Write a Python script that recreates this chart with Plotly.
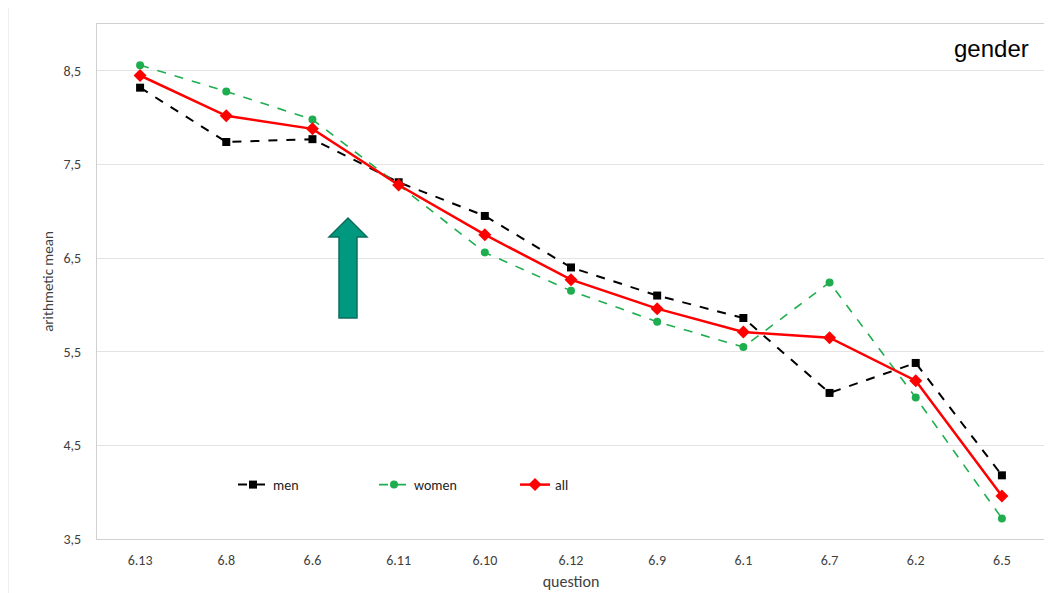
import plotly.graph_objects as go

questions = ["6.13", "6.8", "6.6", "6.11", "6.10", "6.12", "6.9", "6.1", "6.7", "6.2", "6.5"]
men = [8.32, 7.74, 7.77, 7.31, 6.95, 6.40, 6.10, 5.86, 5.06, 5.38, 4.18]
women = [8.56, 8.28, 7.98, 7.28, 6.56, 6.15, 5.82, 5.55, 6.24, 5.01, 3.72]
all_ = [8.45, 8.02, 7.88, 7.28, 6.75, 6.27, 5.96, 5.71, 5.65, 5.19, 3.96]

font_main = "Carlito, Liberation Sans Narrow, Liberation Sans, Arial, sans-serif"

fig = go.Figure()
fig.add_trace(go.Scatter(x=questions, y=men, name="men", mode="lines+markers",
                         line=dict(color="black", width=2, dash="dash"),
                         marker=dict(symbol="square", size=8, color="black")))
fig.add_trace(go.Scatter(x=questions, y=women, name="women", mode="lines+markers",
                         line=dict(color="#1fae4f", width=1.6, dash="dash"),
                         marker=dict(symbol="circle", size=8, color="#1fae4f")))
fig.add_trace(go.Scatter(x=questions, y=all_, name="all", mode="lines+markers",
                         line=dict(color="#ff0000", width=2.5),
                         marker=dict(symbol="diamond", size=10, color="#ff0000")))

OFF = 8  # page body margin
W, H = 1052 - OFF, 593 - OFF
# plot-area edges in screen pixels of the reference
x0p, x1p = 97, 1045
y0p, y1p = 24, 539
def fx(x):
    return (x - x0p) / (x1p - x0p)
def fy(y):
    return (y1p - y) / (y1p - y0p)
arrow_pts = [(339, 318), (339, 237), (329, 237), (348, 218), (367, 237), (357, 237), (357, 318)]
path = "M " + " L ".join(f"{fx(x):.5f},{fy(y):.5f}" for x, y in arrow_pts) + " Z"

fig.update_layout(
    width=W, height=H,
    margin=dict(l=x0p - OFF, r=1052 - x1p, t=y0p - OFF, b=593 - y1p, autoexpand=False),
    paper_bgcolor="white", plot_bgcolor="white",
    separators=",.",
    font=dict(family=font_main, size=14, color="#404040"),
    showlegend=True,
    legend=dict(orientation="h", x=fx(233), y=fy(485),
                xanchor="left", yanchor="middle",
                bgcolor="rgba(0,0,0,0)", entrywidth=96, entrywidthmode="pixels",
                font=dict(size=14, color="#222222", family=font_main)),
    xaxis=dict(type="category", range=[-0.5, 10.5], showgrid=False,
               showline=True, linecolor="#d0d0d0", mirror=True, ticks="",
               ticklabelstandoff=8,
               tickfont=dict(size=14, color="#404040"),
               title=dict(text="question", font=dict(size=16, color="#404040"), standoff=8)),
    yaxis=dict(range=[3.5, 9.0], tick0=3.5, dtick=1, tickformat=".1f",
               showgrid=True, gridcolor="#e3e3e3", gridwidth=1,
               showline=True, linecolor="#d0d0d0", mirror=True, ticks="", zeroline=False,
               ticklabelstandoff=12,
               tickfont=dict(size=14, color="#404040"),
               title=dict(text="arithmetic mean", font=dict(size=15, color="#404040"), standoff=6)),
    shapes=[
        dict(type="rect", xref="paper", yref="paper",
             x0=fx(8), x1=fx(1051), y0=fy(600), y1=fy(7),
             line=dict(color="#e0e0e0", width=1), fillcolor="rgba(0,0,0,0)", layer="below"),
        dict(type="path", xref="paper", yref="paper", path=path,
             fillcolor="#019880", line=dict(color="#0d6e5c", width=1.5)),
    ],
    annotations=[
        dict(text="gender", xref="paper", yref="paper", x=fx(1031),
             y=fy(49), xanchor="right", yanchor="middle", showarrow=False,
             font=dict(family="Liberation Sans, Arial, sans-serif", size=24, color="black")),
    ],
)

fig.write_html("out.html")
